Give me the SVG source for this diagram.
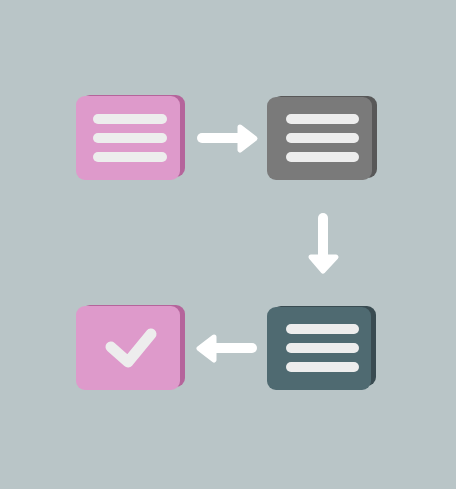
<svg xmlns="http://www.w3.org/2000/svg" width="456" height="489" viewBox="0 0 456 489">
<defs>
<style>
.ln{stroke:#ededed;stroke-width:10;stroke-linecap:round;fill:none}
.arr{fill:#ffffff;stroke:#ffffff;stroke-linejoin:round;stroke-linecap:round}
</style>
</defs>
<rect width="456" height="489" fill="#b9c5c7"/>
<g id="node-doc1">
<rect x="81" y="95" width="104" height="82" rx="9" fill="#b5649b"/>
<rect x="76" y="96" width="104" height="84" rx="9" fill="#de9acb"/>
<line class="ln" x1="98" y1="119" x2="162" y2="119"/>
<line class="ln" x1="98" y1="138" x2="162" y2="138"/>
<line class="ln" x1="98" y1="157" x2="162" y2="157"/>
</g>
<g id="node-doc2">
<rect x="272" y="96" width="105" height="82" rx="9" fill="#585858"/>
<rect x="267" y="97" width="105" height="83" rx="9" fill="#7a7a7a"/>
<line class="ln" x1="291" y1="119" x2="354" y2="119"/>
<line class="ln" x1="291" y1="138" x2="354" y2="138"/>
<line class="ln" x1="291" y1="157" x2="354" y2="157"/>
</g>
<g id="node-doc3">
<rect x="272" y="306" width="104" height="80" rx="9" fill="#394b51"/>
<rect x="267" y="307" width="104" height="83" rx="9" fill="#4f6a71"/>
<line class="ln" x1="291" y1="329" x2="354" y2="329"/>
<line class="ln" x1="291" y1="348" x2="354" y2="348"/>
<line class="ln" x1="291" y1="367" x2="354" y2="367"/>
</g>
<g id="node-done">
<rect x="81" y="305" width="104" height="82" rx="9" fill="#b5649b"/>
<rect x="76" y="306" width="104" height="84" rx="9" fill="#de9acb"/>
<polyline points="111,347 128,362 151,334" fill="none" stroke="#ededed" stroke-width="11" stroke-linecap="round" stroke-linejoin="round"/>
</g>
<g id="connectors">
<line x1="202" y1="138" x2="240" y2="138" stroke="#ffffff" stroke-width="10" stroke-linecap="round"/>
<polygon class="arr" stroke-width="5" points="240,127 255,138.5 240,150"/>
<line x1="323" y1="218" x2="323" y2="256" stroke="#ffffff" stroke-width="10" stroke-linecap="round"/>
<polygon class="arr" stroke-width="5" points="311,257 323,271 336,257"/>
<line x1="252" y1="348" x2="214" y2="348" stroke="#ffffff" stroke-width="10" stroke-linecap="round"/>
<polygon class="arr" stroke-width="5" points="214,337 199,348.5 214,360"/>
</g>
</svg>
